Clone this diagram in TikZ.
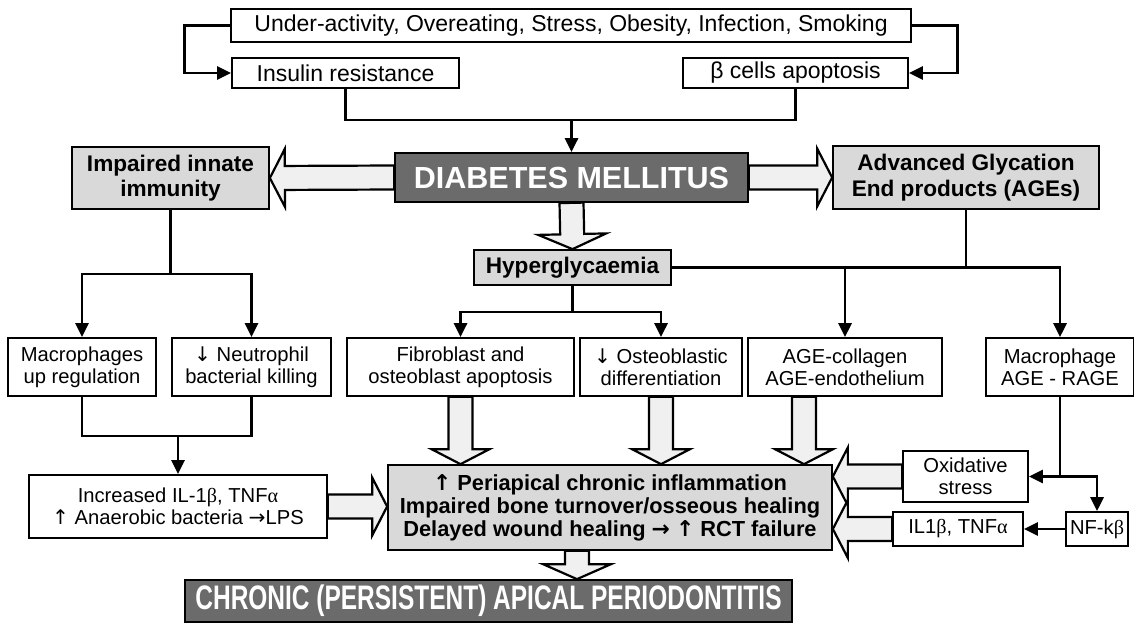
\documentclass[tikz,border=0pt]{standalone}
\usepackage{fontspec}
\usepackage{graphicx}
\setmainfont{Liberation Sans}
\newfontfamily\symf{DejaVu Sans}
\newfontfamily\serf{Liberation Serif}
\usetikzlibrary{arrows.meta,calc}
\definecolor{boxgray}{gray}{0.85}
\definecolor{darkbox}{gray}{0.42}
\definecolor{afill}{gray}{0.94}
\newcommand\fs[2]{\fontsize{#1}{#2}\selectfont}
\newcommand\ar[1]{{\symf #1}}
\tikzset{
  wh/.style 2 args={minimum width=#1pt, minimum height=#2pt},
  box/.style={draw=black, line width=1.7pt, fill=white, inner sep=0pt, align=center, font=\fs{20.2}{22}},
  gbox/.style={box, fill=boxgray, font=\fs{22.6}{25.5}\bfseries},
  dbox/.style={box, fill=darkbox, text=white, font=\fs{30.5}{32}\bfseries},
  conn/.style={line width=2.8pt, line join=miter},
  arr/.style={conn, -{Triangle[length=14pt,width=13pt]}},
  fatst/.style={draw=black, line width=2.2pt, fill=afill, line join=miter}
}
% hollow block arrow from #2 to tip #3, #1 = head half width
\newcommand\fat[3][29]{%
  \draw[fatst] let \p1=(#2), \p2=(#3), \n1={veclen(\x2-\x1,\y2-\y1)}, \n2={atan2(\y2-\y1,\x2-\x1)} in
    [shift={(\x1,\y1)}, rotate=\n2]
    (0pt,-12pt) -- ({\n1*1pt-15pt},-12pt) -- ({\n1*1pt-15pt},-#1pt) -- ({\n1*1pt},0pt)
    -- ({\n1*1pt-15pt},#1pt) -- ({\n1*1pt-15pt},12pt) -- (0pt,12pt) -- cycle;
}
\begin{document}
\begin{tikzpicture}[x=1pt,y=-1pt]
\useasboundingbox (0,0) rectangle (1134,637);

% nodes
\node[box,wh={680}{33},font=\fs{23}{25}] (top) at (571,25.5) {Under-activity, Overeating, Stress, Obesity, Infection, Smoking};
\node[box,wh={227}{30},font=\fs{23}{25}] (ins) at (345.5,73) {Insulin resistance};
\node[box,wh={225}{30},font=\fs{23}{25}] (beta) at (795.5,73) {β cells apoptosis};
\node[dbox,wh={353}{49}] (dm) at (571.5,177.5) {DIABETES MELLITUS};
\node[gbox,wh={197}{62}] (imm) at (170.5,178) {Impaired innate\\immunity};
\node[gbox,wh={266}{63}] (age) at (966,177.5) {Advanced Glycation\\End products (AGEs)};
\node[gbox,wh={197}{35}] (hyp) at (572.5,267.5) {Hyperglycaemia};
\node[box,wh={148}{58}] (mac) at (82,367) {Macrophages\\up regulation};
\node[box,wh={159}{58}] (neu) at (251.5,367) {\ar{↓} Neutrophil\\bacterial killing};
\node[box,wh={227}{58}] (fib) at (460.5,367) {Fibroblast and\\osteoblast apoptosis};
\node[box,wh={162}{58}] (ost) at (661,367) {\ar{↓} Osteoblastic\\differentiation};
\node[box,wh={194}{58}] (agec) at (845,367) {AGE-collagen\\AGE-endothelium};
\node[box,wh={148}{58}] (macr) at (1060,367) {Macrophage\\AGE - RAGE};
\node[box,wh={298}{63}] (inc) at (178,506.5) {Increased IL-1{\serf β}, TNF{\serf α}\\\ar{↑} Anaerobic bacteria \ar{→}LPS};
\node[gbox,wh={444}{85},font=\fs{21.8}{23}\bfseries] (cen) at (610,507.5) {\ar{↑} Periapical chronic inflammation\\Impaired bone turnover/osseous healing\\Delayed wound healing \ar{→} \ar{↑} RCT failure};
\node[box,wh={125}{51}] (oxi) at (965.5,476.5) {Oxidative\\stress};
\node[box,wh={130}{34}] (il) at (958,529) {IL1{\serf β}, TNF{\serf α}};
\node[box,wh={62}{34}] (nf) at (1097,529) {NF-k{\serf β}};
\node[dbox,wh={607}{42}] (chr) at (488.5,601) {\scalebox{0.72}[1]{\fs{34}{36}\bfseries CHRONIC (PERSISTENT) APICAL PERIODONTITIS}};

% thin connectors
\draw[arr] (top.west) -- ++(-46,0) |- (ins.west);
\draw[arr] (top.east) -- ++(46,0) |- (beta.east);
\coordinate (j1) at (571.5,120);
\draw[conn] (ins.south) |- (j1) -| (beta.south);
\draw[arr] (j1) -- (dm.north);

\coordinate (j2) at (170.5,274);
\draw[conn] (imm.south) -- (j2);
\draw[arr] (j2) -| (mac.north);
\draw[arr] (j2) -| (neu.north);

\coordinate (j3) at (572.5,312);
\draw[conn] (hyp.south) -- (j3);
\draw[arr] (j3) -| (fib.north);
\draw[arr] (j3) -| (ost.north);

\coordinate (j4) at (agec.north |- hyp.east);
\draw[conn] (age.south) -- (age.south |- hyp.east);
\draw[arr] (hyp.east) -| (macr.north);
\draw[arr] (j4) -- (agec.north);

\coordinate (j5) at (178,436);
\draw[conn] (mac.south) |- (j5) -| (neu.south);
\draw[arr] (j5) -- (inc.north);

\coordinate (j6) at (macr.south |- oxi.east);
\draw[conn] (macr.south) -- (j6);
\draw[arr] (j6) -- (oxi.east);
\draw[arr] (j6) -| (nf.north);
\draw[arr] (nf.west) -- (il.east);

% hollow block arrows
\fat{dm.west}{imm.east}
\fat{dm.east}{age.west}
\fat[34]{dm.south}{hyp.north}
\fat{fib.south}{fib.south |- cen.north}
\fat{ost.south}{ost.south |- cen.north}
\coordinate (a6) at ([xshift=-41pt]agec.south);
\fat{a6}{a6 |- cen.north}
\fat{inc.east}{inc.east -| cen.west}
\fat{oxi.west}{oxi.west -| cen.east}
\fat{il.west}{il.west -| cen.east}
\coordinate (a10) at ([xshift=-33pt]cen.south);
\fat[34]{a10}{a10 |- chr.north}
\end{tikzpicture}
\end{document}
